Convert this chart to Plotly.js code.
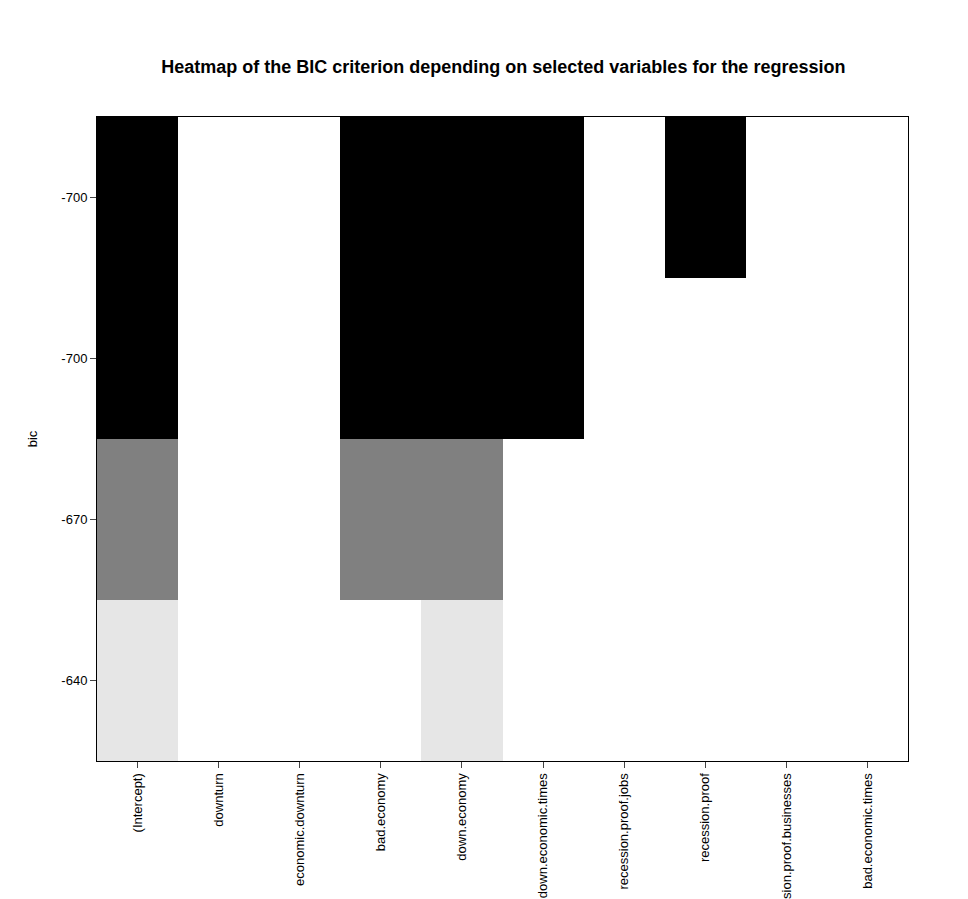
<!DOCTYPE html>
<html><head><script src="https://cdn.plot.ly/plotly-3.0.1.min.js"></script></head>
<body style="margin:0">
<div id="p" style="width:968px;height:899px"></div>
<script>
const variables = ["(Intercept)","downturn","economic.downturn","bad.economy","down.economy","down.economic.times","recession.proof.jobs","recession.proof","recession.proof.businesses","bad.economic.times"];
const bicLabels = ["-640","-670","-700","-700"]; // bottom to top
const shade = [
  [1,0,0,0,1,0,0,0,0,0],
  [2,0,0,2,2,0,0,0,0,0],
  [3,0,0,3,3,3,0,0,0,0],
  [3,0,0,3,3,3,0,3,0,0]
];
const rows = [0,1,2,3];
const cols = variables.map((v,i)=>i);
Plotly.newPlot('p',[{
  type:'heatmap', x:cols, y:rows, z:shade, zmin:0, zmax:3, showscale:false,
  colorscale:[[0,'#ffffff'],[0.1667,'#ffffff'],[0.1667,'#e6e6e6'],[0.5,'#e6e6e6'],[0.5,'#808080'],[0.8333,'#808080'],[0.8333,'#000000'],[1,'#000000']],
  hoverinfo:'skip'
}],{
  width:968,height:899,paper_bgcolor:'#fff',plot_bgcolor:'#fff',
  margin:{l:97,r:60,t:117,b:138},
  font:{family:'Arial, Liberation Sans',size:13,color:'#000'},
  title:{text:'<b>Heatmap of the BIC criterion depending on selected variables for the regression</b>',x:0.52,xanchor:'center',y:0.933,font:{size:18}},
  xaxis:{tickmode:'array',tickvals:cols,ticktext:variables,tickangle:-90,showline:true,mirror:true,linecolor:'#000',ticks:'outside',ticklen:6,showgrid:false,zeroline:false,range:[-0.5,9.5],automargin:false},
  yaxis:{tickmode:'array',tickvals:rows,ticktext:bicLabels,showline:true,mirror:true,linecolor:'#000',ticks:'outside',ticklen:6,showgrid:false,zeroline:false,range:[-0.5,3.5],title:{text:'bic',standoff:20,font:{size:13}},automargin:false}
},{displayModeBar:false});
</script></body></html>
